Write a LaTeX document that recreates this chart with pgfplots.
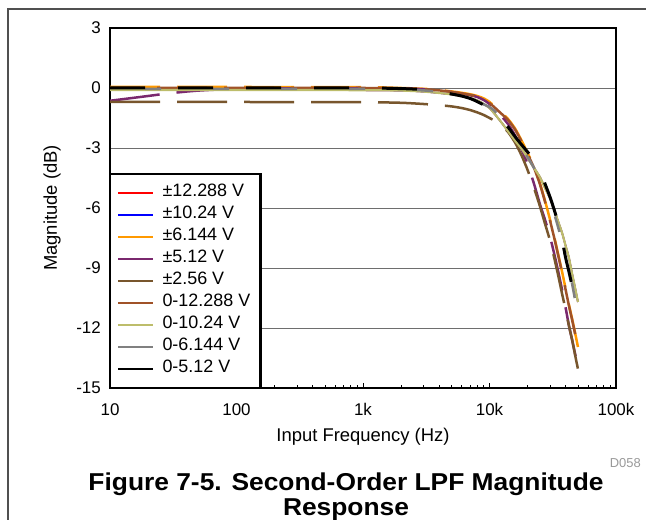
\documentclass[border=0pt]{standalone}
\usepackage{pgfplots}
\pgfplotsset{compat=1.18}
\usepackage{fontspec}
\setmainfont{Liberation Sans}

\definecolor{cRed}{RGB}{255,0,0}
\definecolor{cBlue}{RGB}{0,0,255}
\definecolor{cOrange}{RGB}{255,153,0}
\definecolor{cPurple}{RGB}{122,40,110}
\definecolor{cBrown}{RGB}{120,86,45}
\definecolor{cSienna}{RGB}{160,82,40}
\definecolor{cOlive}{RGB}{189,189,107}
\definecolor{cGray}{RGB}{128,128,128}
\definecolor{gridgray}{RGB}{110,110,110}
\definecolor{framegray}{RGB}{80,80,80}

\begin{document}
\begin{tikzpicture}[x=1bp,y=1bp]
\useasboundingbox (0,0) rectangle (646,520);
\draw[line width=1.5bp, framegray] (8,0) -- (8,511) -- (646,511);

\begin{axis}[
  at={(110bp,132bp)}, anchor=south west,
  scale only axis, width=506bp, height=360bp,
  xmode=log, xmin=10, xmax=100000,
  ymin=-15, ymax=3,
  ytick={-15,-12,-9,-6,-3,0,3},
  yticklabels={-15,-12,-9,-6,-3,0,3},
  xtick={10,100,1000,10000,100000},
  xticklabels={10,100,1k,10k,100k},
  ymajorgrids, grid style={line width=0.8bp, gridgray},
  axis line style={line width=2.7bp},
  tick align=inside, xtick pos=bottom, ytick pos=left,
  major tick length=5bp, minor tick length=3bp,
  xtick style={line width=0.6bp, black},
  ytick style={draw=none},
  xticklabel style={font=\fontsize{17}{19}\selectfont, anchor=north, inner sep=0pt, yshift=-15bp},
  yticklabel style={font=\fontsize{17}{19}\selectfont, anchor=east, inner sep=0pt, xshift=-9bp},
  xlabel={Input Frequency (Hz)},
  ylabel={Magnitude (dB)},
  xlabel style={font=\fontsize{18.5}{20}\selectfont, at={(axis description cs:0.5,-0.1361)}, anchor=center},
  ylabel style={font=\fontsize{18.5}{20}\selectfont, at={(axis description cs:-0.1146,0.5)}, anchor=center},
  legend cell align=left,
  legend style={at={(0,0)}, anchor=south west, draw=black, line width=2.7bp, fill=white,
    outer sep=0pt, inner xsep=7bp, inner ysep=8bp, row sep=0pt, column sep=5bp,
    font=\fontsize{18}{20}\selectfont,
    nodes={inner sep=3bp, text height=12bp, text depth=4bp}},
  legend image code/.code={\draw[#1,solid,line width=2.5bp] (0bp,0bp) -- (35bp,0bp);},
]

% +-12.288 V
\addplot[cRed, line width=1.6bp, smooth, tension=0.4] coordinates {
(10,-0.1)(100,-0.1)(1000,-0.11)(2000,-0.13)(3000,-0.18)(4000,-0.25)(5000,-0.32)(6000,-0.4)(7000,-0.5)(8000,-0.62)(9000,-0.8)(10000,-1.0)(11000,-1.3)(12000,-1.6)(14000,-2.15)(16000,-2.65)(18000,-3.05)(20000,-3.5)(22500,-4.0)(25000,-4.45)(27500,-5.0)(30000,-5.5)(32500,-6.1)(35000,-6.7)(37500,-7.25)(40000,-7.9)(42500,-8.5)(45000,-9.3)(47500,-10.0)(50000,-10.7)};
\addlegendentry{±12.288 V}
% +-10.24 V
\addplot[cBlue, line width=1.6bp, smooth, tension=0.4] coordinates {
(10,-0.1)(100,-0.1)(1000,-0.11)(2000,-0.13)(3000,-0.18)(4000,-0.25)(5000,-0.32)(6000,-0.4)(7000,-0.5)(8000,-0.62)(9000,-0.8)(10000,-1.0)(11000,-1.3)(12000,-1.6)(14000,-2.15)(16000,-2.65)(18000,-3.05)(20000,-3.5)(22500,-4.0)(25000,-4.45)(27500,-5.0)(30000,-5.5)(32500,-6.1)(35000,-6.7)(37500,-7.25)(40000,-7.9)(42500,-8.5)(45000,-9.3)(47500,-10.0)(50000,-10.7)};
\addlegendentry{±10.24 V}
% +-6.144 V
\addplot[cOrange, line width=2.5bp, dash pattern=on 50bp off 17bp, smooth, tension=0.4] coordinates {
(10,0.05)(100,0.05)(1000,0.04)(2000,0.0)(3000,-0.04)(4000,-0.1)(5000,-0.17)(6000,-0.24)(7000,-0.31)(8000,-0.4)(9000,-0.52)(10000,-0.7)(11000,-0.93)(12000,-1.15)(14000,-1.55)(16000,-2.05)(18000,-2.65)(20000,-3.25)(22500,-3.95)(25000,-4.75)(27500,-5.65)(30000,-6.55)(32500,-7.45)(35000,-8.35)(37500,-9.2)(40000,-10.05)(42500,-10.85)(45000,-11.55)(47500,-12.25)(50000,-12.95)};
\addlegendentry{±6.144 V}
% +-5.12 V
\addplot[cPurple, line width=2.5bp, dash pattern=on 50bp off 17bp, smooth, tension=0.4] coordinates {
(10,-0.64)(15,-0.5)(20,-0.4)(25,-0.32)(30,-0.26)(40,-0.18)(50,-0.13)(70,-0.08)(100,-0.05)(200,-0.02)(1000,0)(2000,-0.02)(3000,-0.06)(4000,-0.12)(5000,-0.2)(6000,-0.28)(7000,-0.36)(8000,-0.45)(9000,-0.6)(10000,-0.8)(11000,-1.05)(12000,-1.3)(14000,-1.8)(16000,-2.4)(18000,-3.1)(20000,-3.8)(22500,-4.8)(25000,-5.8)(27500,-6.6)(30000,-7.4)(32500,-8.3)(35000,-9.2)(37500,-10.1)(40000,-11.0)(42500,-11.9)(45000,-12.6)(47500,-13.3)(50000,-13.9)};
\addlegendentry{±5.12 V}
% +-2.56 V
\addplot[cBrown, line width=2.5bp, dash pattern=on 50bp off 17bp, smooth, tension=0.4] coordinates {
(10,-0.7)(100,-0.7)(1000,-0.71)(2000,-0.74)(3000,-0.8)(4000,-0.86)(5000,-0.92)(6000,-1.0)(7000,-1.1)(8000,-1.22)(9000,-1.35)(10000,-1.5)(11000,-1.64)(12000,-1.8)(14000,-2.2)(16000,-2.75)(18000,-3.4)(20000,-4.1)(22500,-5.0)(25000,-5.9)(27500,-6.8)(30000,-7.6)(32500,-8.5)(35000,-9.4)(37500,-10.3)(40000,-11.1)(42500,-11.9)(45000,-12.6)(47500,-13.35)(50000,-14.05)};
\addlegendentry{±2.56 V}
% 0-12.288 V
\addplot[cSienna, line width=2.5bp, dash pattern=on 50bp off 17bp, dash phase=20bp, smooth, tension=0.4] coordinates {
(10,0)(100,0)(1000,0)(2000,-0.03)(3000,-0.06)(4000,-0.12)(5000,-0.2)(6000,-0.27)(7000,-0.34)(8000,-0.42)(9000,-0.55)(10000,-0.75)(11000,-0.98)(12000,-1.2)(14000,-1.6)(16000,-2.1)(18000,-2.7)(20000,-3.3)(22500,-4.0)(25000,-4.8)(27500,-5.7)(30000,-6.6)(32500,-7.5)(35000,-8.4)(37500,-9.25)(40000,-10.1)(42500,-10.9)(45000,-11.6)(47500,-12.3)(50000,-13.0)};
\addlegendentry{0-12.288 V}
% 0-10.24 V
\addplot[cOlive, line width=2.2bp, smooth, tension=0.4] coordinates {
(10,-0.1)(100,-0.1)(1000,-0.11)(2000,-0.13)(3000,-0.18)(4000,-0.25)(5000,-0.32)(6000,-0.4)(7000,-0.5)(8000,-0.62)(9000,-0.8)(10000,-1.0)(11000,-1.3)(12000,-1.6)(14000,-2.15)(16000,-2.65)(18000,-3.05)(20000,-3.5)(22500,-4.0)(25000,-4.45)(27500,-5.0)(30000,-5.5)(32500,-6.1)(35000,-6.7)(37500,-7.25)(40000,-7.9)(42500,-8.5)(45000,-9.3)(47500,-10.0)(50000,-10.7)};
\addlegendentry{0-10.24 V}
% 0-6.144 V
\addplot[cGray, line width=2.5bp, dash pattern=on 16bp off 52bp, dash phase=33bp, smooth, tension=0.4] coordinates {
(10,-0.05)(100,-0.05)(1000,-0.05)(2000,-0.07)(3000,-0.12)(4000,-0.2)(5000,-0.3)(6000,-0.4)(7000,-0.52)(8000,-0.68)(9000,-0.82)(10000,-0.95)(11000,-1.15)(12000,-1.45)(14000,-1.95)(16000,-2.5)(18000,-3.0)(20000,-3.45)(22500,-4.0)(25000,-4.6)(27500,-5.1)(30000,-5.7)(32500,-6.3)(35000,-7.0)(37500,-7.7)(40000,-8.3)(42500,-9.0)(45000,-9.8)(47500,-10.6)(50000,-11.35)};
\addlegendentry{0-6.144 V}
% 0-5.12 V
\addplot[black, line width=3bp, dash pattern=on 35bp off 33bp, smooth, tension=0.4] coordinates {
(10,0)(100,0)(1000,0)(2000,-0.03)(3000,-0.08)(4000,-0.18)(5000,-0.3)(6000,-0.4)(7000,-0.52)(8000,-0.68)(9000,-0.85)(10000,-1.05)(11000,-1.28)(12000,-1.5)(14000,-1.95)(16000,-2.45)(18000,-2.85)(20000,-3.2)(22500,-3.6)(25000,-4.15)(27500,-4.8)(30000,-5.43)(32500,-6.1)(35000,-6.8)(37500,-7.6)(40000,-8.5)(42500,-9.2)(45000,-9.9)(47500,-10.5)(50000,-11.0)};
\addlegendentry{0-5.12 V}
\end{axis}

\node[anchor=east, inner sep=0pt, text=black!40, font=\fontsize{13}{14}\selectfont] at (641,57) {D058};
\node[anchor=base, inner sep=0pt, font=\bfseries\fontsize{24.5}{28}\selectfont] at (346,29) {\scalebox{1.08}[1]{Figure 7-5. Second-Order LPF Magnitude}};
\node[anchor=base, inner sep=0pt, font=\bfseries\fontsize{24.5}{28}\selectfont] at (346,4) {\scalebox{1.08}[1]{Response}};
\end{tikzpicture}
\end{document}
